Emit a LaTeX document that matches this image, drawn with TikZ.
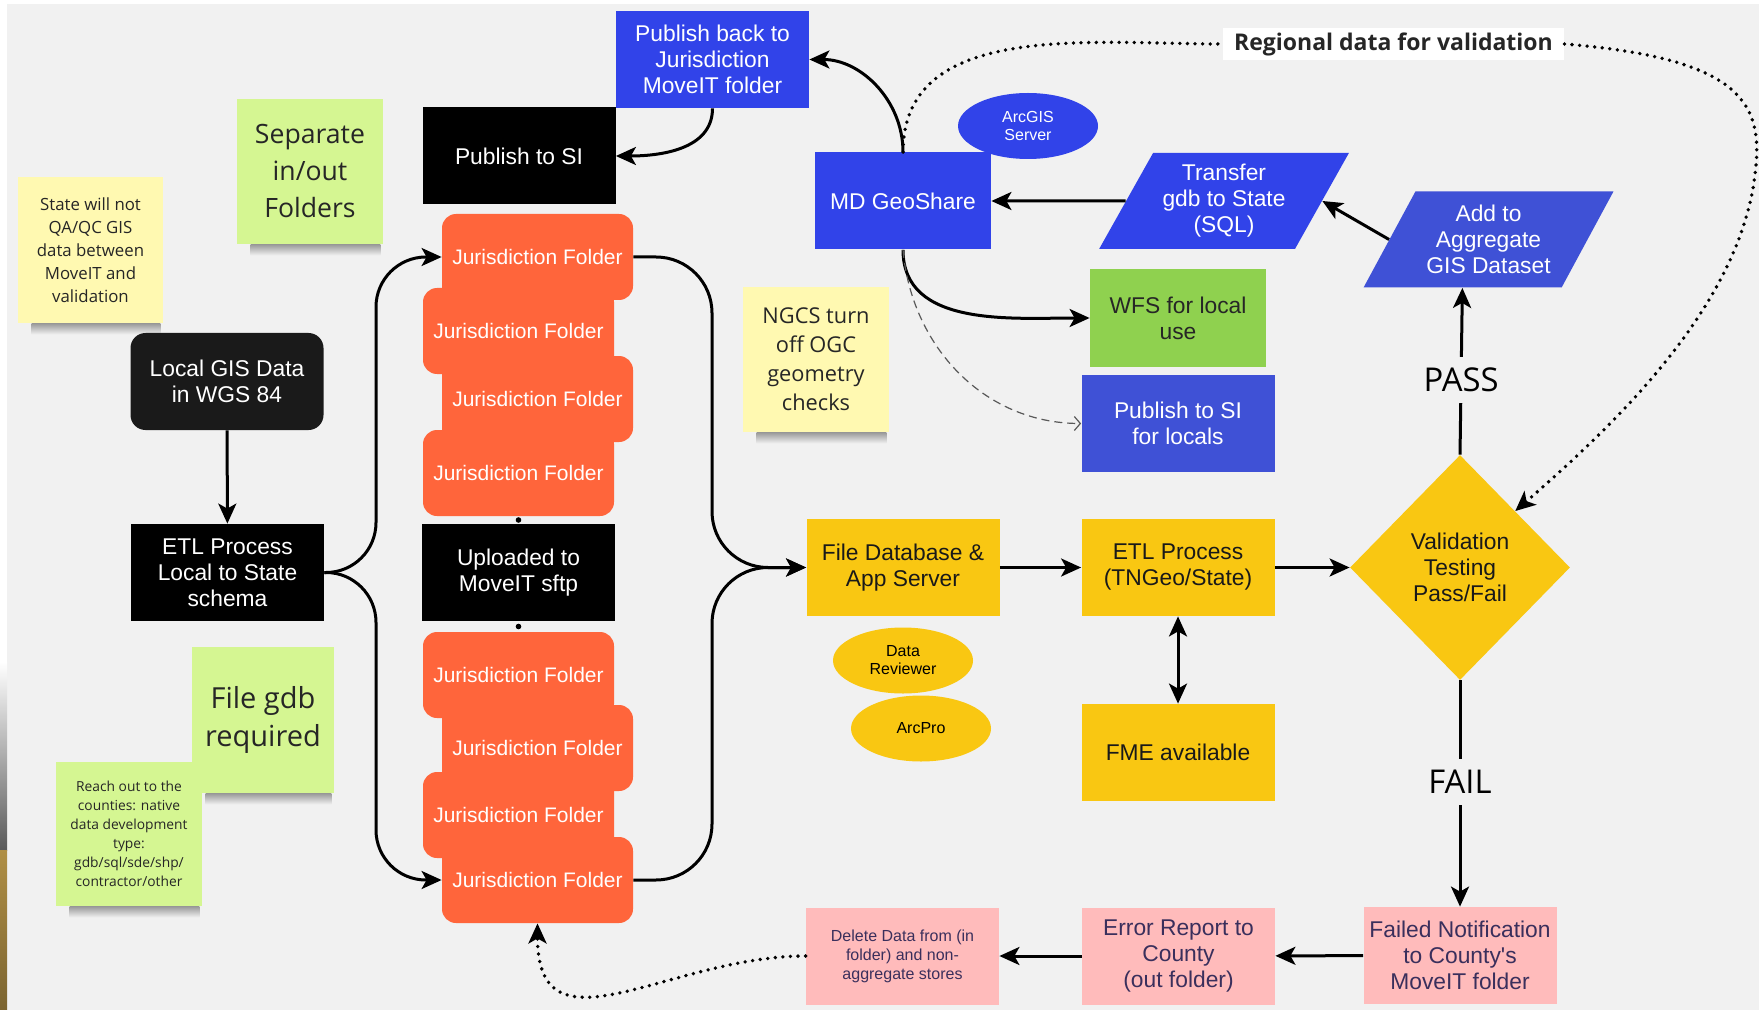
\documentclass[tikz,border=0pt]{standalone}
\usepackage{fontspec}
\setmainfont{Liberation Sans}
\newfontfamily\notefam{Open Sans}
\usetikzlibrary{calc,arrows.meta,positioning,shapes.geometric}

\definecolor{bgcol}{HTML}{F1F1F1}
\definecolor{geoblue}{HTML}{3143E9}
\definecolor{dimblue}{HTML}{3F51D6}
\definecolor{jurorange}{HTML}{FF653B}
\definecolor{procyellow}{HTML}{F9C712}
\definecolor{wfsgreen}{HTML}{8FD14F}
\definecolor{failpink}{HTML}{FFBBBB}
\definecolor{pinktext}{HTML}{3A2F5C}
\definecolor{stickyyellow}{HTML}{FFF9B1}
\definecolor{stickygreen}{HTML}{D5F692}
\definecolor{darkbox}{HTML}{1A1A1A}
\definecolor{stripgold}{HTML}{B08F45}

\tikzset{
  flow/.style={line width=1.5pt,-{Stealth[length=10pt,width=9pt,inset=2.5pt]}},
  dotline/.style={line width=1.9pt,line cap=round,dash pattern=on 0pt off 3.8pt},
  dotflow/.style={dotline,-{Stealth[length=10pt,width=9pt,inset=2.5pt]}},
  dashflow/.style={line width=0.6pt,draw=black!65,dash pattern=on 4pt off 2.5pt,-{Straight Barb[length=3pt,width=7pt]}},
  box/.style={rectangle,minimum width=96.5pt,minimum height=48.5pt,inner sep=1pt,align=center,font=\fontsize{11.4}{13}\selectfont},
  blackbox/.style={box,fill=black,text=white},
  bluebox/.style={box,fill=geoblue,text=white},
  yellowbox/.style={box,fill=procyellow,text=black!90},
  pinkbox/.style={box,fill=failpink,text=pinktext},
  folder/.style={rectangle,rounded corners=7pt,fill=jurorange,text=white,minimum width=95.5pt,minimum height=43pt,inner sep=1pt,font=\fontsize{10.5}{12}\selectfont},
  slant/.style={trapezium,trapezium left angle=58,trapezium right angle=122,trapezium stretches=true,fill=geoblue,text=white,align=center,minimum width=125pt,minimum height=48pt,inner sep=1pt,font=\fontsize{11.4}{13}\selectfont},
  oval/.style={ellipse,minimum width=70pt,minimum height=33pt,inner sep=0pt,align=center,font=\fontsize{8}{9}\selectfont},
  sticky/.style={rectangle,inner sep=2pt,align=center,text=black!85},
  passfail/.style={fill=bgcol,inner xsep=3pt,inner ysep=5.5pt,font=\notefam\fontsize{16.4}{18}\selectfont}
}
\newcommand\noteshade[1]{\shade[top color=black!40,bottom color=bgcol] (#1.south west) ++(14,0) rectangle ($(#1.south east)+(-3,11)$);}

\begin{document}
\begin{tikzpicture}[x=0.5pt,y=-0.5pt]
\useasboundingbox (0,0) rectangle (1759,1010);
\fill[white] (0,0) rectangle (1759,1010);
\fill[bgcol] (7,4) rectangle (1759,1010);
\shade[top color=white,bottom color=black!65] (0,662) rectangle (7,850);
\shade[top color=stripgold,bottom color=stripgold!70!black] (0,850) rectangle (7,1010);

\node[sticky,fill=stickyyellow,minimum width=72.5pt,minimum height=73pt,font=\notefam\fontsize{8.4}{11.5}\selectfont] (qanote) at (90.5,250) {State will not\\QA/QC GIS\\data between\\MoveIT and\\validation};
\noteshade{qanote}
\node[sticky,fill=stickygreen,minimum width=73pt,minimum height=72.5pt,font=\notefam\fontsize{13.3}{18.5}\selectfont] (sepnote) at (310,171.5) {Separate\\in/out\\Folders};
\noteshade{sepnote}
\node[sticky,fill=stickygreen,minimum width=71pt,minimum height=73pt,font=\notefam\fontsize{14.5}{19}\selectfont] (gdbnote) at (263,720) {File gdb\\required};
\noteshade{gdbnote}
\node[sticky,fill=stickygreen,minimum width=73pt,minimum height=72pt,font=\notefam\fontsize{6.9}{9.5}\selectfont] (reachnote) at (129,834) {Reach out to the\\counties: native\\data development\\type:\\gdb/sql/sde/shp/\\contractor/other};
\noteshade{reachnote}
\node[sticky,fill=stickyyellow,minimum width=73pt,minimum height=72.5pt,font=\notefam\fontsize{10.9}{14.5}\selectfont] (ngcsnote) at (816,359.5) {NGCS turn\\off OGC\\geometry\\checks};
\noteshade{ngcsnote}

\node[bluebox] (pubback) at (712.5,59.5) {Publish back to\\Jurisdiction\\MoveIT folder};
\node[blackbox] (pubsi) at (519,156) {Publish to SI};
\node[bluebox,minimum width=88pt] (geo) at (903,201) {MD GeoShare};
\node[oval,fill=geoblue,text=white] (arcgis) at (1028,126) {ArcGIS\\Server};
\node[slant] (transfer) at (1224,201) {Transfer\\gdb to State\\(SQL)};
\node[slant,fill=dimblue] (addagg) at (1488.5,239.5) {Add to\\Aggregate\\GIS Dataset};
\node[box,fill=wfsgreen,text=black!85,minimum width=88pt] (wfs) at (1178,318) {WFS for local\\use};
\node[bluebox,fill=dimblue] (publocal) at (1178,423.5) {Publish to SI\\for locals};
\node[fill=white,minimum width=170.5pt,minimum height=16pt,inner sep=0pt,text=black!85,font=\notefam\bfseries\fontsize{11.5}{13}\selectfont] (regional) at (1393.5,44) {Regional data for validation};

\node[blackbox,fill=darkbox,rounded corners=7.5pt] (localgis) at (227,381.5) {Local GIS Data\\in WGS 84};
\node[blackbox] (etllocal) at (227.5,572.5) {ETL Process\\Local to State\\schema};
\foreach \n/\x/\y in {1/537.5/257,2/518.5/331,3/537.5/399,4/518.5/473,5/518.5/675,6/537.5/748,7/518.5/815,8/537.5/880}
  \node[folder] (f\n) at (\x,\y) {Jurisdiction Folder};
\node[blackbox] (uploaded) at (518.5,572.5) {Uploaded to\\MoveIT sftp};
\fill ($(f4.south)!.5!(uploaded.north)$) circle (1.4pt);
\fill ($(f5.north)!.5!(uploaded.south)$) circle (1.4pt);

\node[yellowbox] (filedb) at (903,567.5) {File Database \&\\App Server};
\node[yellowbox] (etlstate) at (1178,567.5) {ETL Process\\(TNGeo/State)};
\node[diamond,fill=procyellow,text=black!90,minimum width=110pt,minimum height=112.5pt,inner sep=0pt,align=center,font=\fontsize{11.4}{13}\selectfont] (valid) at (1460,567.5) {Validation\\Testing\\Pass/Fail};
\node[oval,fill=procyellow] (reviewer) at (903,660.5) {Data\\Reviewer};
\node[oval,fill=procyellow] (arcpro) at (921,728.5) {ArcPro};
\node[yellowbox] (fme) at (1178,752.5) {FME available};
\node[pinkbox,font=\fontsize{8}{9.5}\selectfont] (delete) at (902.5,956) {Delete Data from (in\\folder) and non-\\aggregate stores};
\node[pinkbox] (error) at (1178.5,956) {Error Report to\\County\\(out folder)};
\node[pinkbox] (failed) at (1460,955.5) {Failed Notification\\to County\textquotesingle s\\MoveIT folder};

\coordinate (busL) at (376,572.5);
\coordinate (busR) at (712,567.5);
\draw[flow] (localgis) -- (etllocal);
\draw[flow,rounded corners=25pt] (etllocal.east) -- (busL) |- (f1.west);
\draw[flow,rounded corners=25pt] (etllocal.east) -- (busL) |- (f8.west);
\draw[flow,rounded corners=28pt] (f1.east) -| (busR) -- (filedb.west);
\draw[flow,rounded corners=28pt] (f8.east) -| (busR) -- (filedb.west);
\draw[flow] (pubback.south) to[out=-90,in=0] (pubsi.east);
\draw[flow] (geo.north) to[out=90,in=0] (pubback.east);
\draw[flow] (transfer.west) -- (geo.east);
\draw[flow] (addagg.west) -- (transfer.east);
\draw[flow] (geo.south) to[out=-90,in=180] (wfs.west);
\draw[dashflow] (geo.south) to[out=-85,in=180] (publocal.west);
\draw[dotline] (geo.north) to[out=90,in=180] (regional.west);
\draw[dotflow] (regional.east) .. controls (1735,58) and (1762,100) .. (1756,165) .. controls (1745,300) and (1620,420) .. (valid.north east);
\draw[flow] (filedb) -- (etlstate);
\draw[flow] (etlstate) -- (valid);
\draw[flow,{Stealth[length=10pt,width=9pt,inset=2.5pt]}-{Stealth[length=10pt,width=9pt,inset=2.5pt]}] (etlstate) -- (fme);
\draw[flow] (valid.north) -- node[passfail,pos=.45] {PASS} (addagg.bottom side);
\draw[flow] (valid.south) -- node[passfail,pos=.45] {FAIL} (failed.north);
\draw[flow] (failed) -- (error);
\draw[flow] (error) -- (delete);
\draw[dotflow] (delete.west) to[out=180,in=-90,looseness=1.3] (f8.south);
\end{tikzpicture}
\end{document}
